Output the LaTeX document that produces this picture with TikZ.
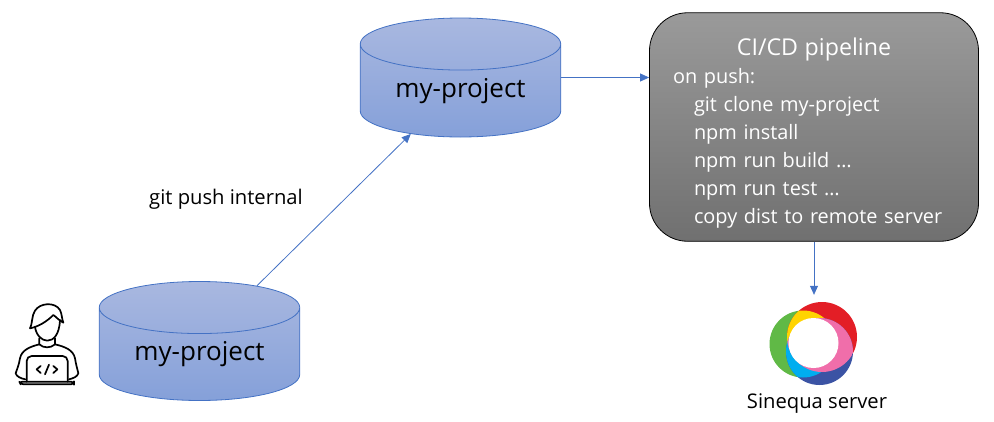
\documentclass[tikz,border=0pt]{standalone}
\usepackage{fontspec}
\setmainfont{Open Sans}
\usetikzlibrary{arrows.meta,positioning,shapes}
\definecolor{linkblue}{HTML}{4472C4}
\definecolor{cyltop}{HTML}{A9B8E0}
\definecolor{cylbot}{HTML}{85A0D9}
\definecolor{boxtop}{HTML}{9A9A9A}
\definecolor{boxbot}{HTML}{707070}
\definecolor{logogreen}{HTML}{60B946}
\definecolor{logored}{HTML}{E31E26}
\definecolor{logoblue}{HTML}{3B53A4}
\definecolor{logoyellow}{HTML}{FFD400}
\definecolor{logocyan}{HTML}{00AEEF}
\definecolor{logopink}{HTML}{F06EAA}
\tikzset{
  repo/.style={cylinder, anchor=shape center, shape border rotate=90, aspect=0.4, draw=linkblue, line width=0.8pt,
    top color=cyltop, bottom color=cylbot, minimum width=200.5pt, minimum height=119pt,
    inner sep=0pt, font=\fontsize{26}{30}\selectfont},
  link/.style={-{Triangle[length=9pt,width=8pt]}, draw=linkblue, line width=0.8pt},
  caption/.style={inner sep=0pt, font=\fontsize{20.2}{24}\selectfont},
  person/.style={line width=1.7pt, line cap=round, line join=round}
}
\begin{document}
\begin{tikzpicture}[x=1pt, y=-1pt]
  \useasboundingbox (0,0) rectangle (994,421);
  \node[repo] (remote) at (460.5,77.5) {\raisebox{-10pt}{my-project}};
  \node[repo] (local) at (199.5,341) {\raisebox{-10pt}{my-project}};
  \node[draw=black, line width=0.8pt, rounded corners=38pt, top color=boxtop, bottom color=boxbot,
    minimum width=329pt, minimum height=228.5pt, text=white, inner sep=0pt, text width=282pt, align=left,
    font=\fontsize{19.9}{27.9}\selectfont] (pipeline) at (814,127)
    {\rule{0pt}{30pt}\makebox[282pt][c]{\fontsize{23.2}{27.9}\selectfont CI/CD pipeline}\\
     on push:\\
     \hspace*{21pt}git clone my-project\\
     \hspace*{21pt}npm install\\
     \hspace*{21pt}npm run build …\\
     \hspace*{21pt}npm run test …\\
     \hspace*{21pt}copy dist to remote server};
  \node[minimum size=96pt, inner sep=0pt] (logo) at (814,343) {};
  \node[caption] (server) at (817,403.5) {Sinequa server};
  \node[caption] (pushlabel) at (226,199) {git push internal};
  % sinequa logo
  \fill[logogreen] (803,344) circle (33.5);
  \fill[logored] (822,337) circle (35);
  \fill[logoblue] (819.5,351.5) circle (33.5);
  \begin{scope}
    \clip (803,344) circle (33.5);
    \fill[logoyellow] (822,337) circle (35);
    \fill[logocyan] (819.5,351.5) circle (33.5);
  \end{scope}
  \begin{scope}
    \clip (822,337) circle (35);
    \fill[logopink] (819.5,351.5) circle (33.5);
  \end{scope}
  \fill[white] (813.5,343) circle (25);
  % developer
  \begin{scope}[shift={(0,270)}, scale=1/3, person]
    \draw (90,175) .. controls (97,165) and (95,135) .. (105,122) .. controls (120,98) and (165,95) .. (180,120)
      .. controls (186,132) and (185,145) .. (190,158) .. controls (175,150) and (168,140) .. (160,135)
      .. controls (140,155) and (115,170) .. (90,175);
    \draw (105,170) .. controls (108,195) and (125,212) .. (142,212) .. controls (160,212) and (178,195) .. (180,150);
    \draw (118,205) -- (118,223) .. controls (130,235) and (152,235) .. (165,223) -- (165,205);
    \draw (118,223) .. controls (90,230) and (65,240) .. (60,265) .. controls (57,285) and (50,300) .. (47,310)
      .. controls (50,320) and (62,325) .. (76,328);
    \draw (165,223) .. controls (195,230) and (220,240) .. (225,265) .. controls (228,285) and (233,300) .. (235,310)
      .. controls (232,320) and (220,325) .. (207,328);
    \draw[rounded corners=5] (80,335) -- (80,258) -- (203,258) -- (203,335);
    \draw[rounded corners=3] (58,335) -- (222,335) -- (222,343) -- (62,343) -- cycle;
    \draw (122,288) -- (110,298) -- (122,309);
    \draw (160,288) -- (172,298) -- (160,309);
    \draw (147,284) -- (135,313);
  \end{scope}
  \draw[link] (local.50) -- (remote.221.5);
  \draw[link] (remote.east |- remote.shape center) -- (pipeline.west |- remote.shape center);
  \draw[link] (pipeline.south) -- (logo.north);
\end{tikzpicture}
\end{document}
